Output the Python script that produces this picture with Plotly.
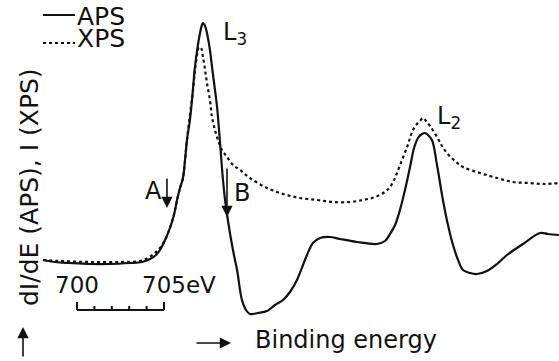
import plotly.graph_objects as go

# APS derivative spectrum (dI/dE), Fe 2p region
aps_energy = [698.05, 698.74, 699.60, 700.75, 701.90, 703.05, 703.74, 704.20, 704.54, 704.77,
              705.06, 705.34, 705.57, 705.75, 705.92, 706.09, 706.21, 706.32, 706.49, 706.61,
              706.78, 706.95, 707.07, 707.18, 707.24, 707.36, 707.47, 707.64, 707.76, 707.93,
              708.05, 708.22, 708.39, 708.51, 708.79, 709.02, 709.20, 709.48, 709.71, 709.94,
              710.40, 710.92, 711.38, 711.84, 712.24, 712.64, 712.99, 713.22, 713.56, 713.97,
              714.54, 715.11, 716.09, 717.24, 717.70, 717.99, 718.28, 718.56, 718.85, 719.14,
              719.37, 719.60, 719.83, 720.00, 720.17, 720.40, 720.69, 721.03, 721.32, 721.61,
              721.90, 722.18, 722.59, 722.99, 723.56, 724.14, 724.71, 725.63, 726.61, 727.07,
              727.70]
aps_signal = [0.3, 0.1, 0.0, -0.1, -0.1, 0.0, 0.1, 0.4, 0.8, 1.3,
              2.3, 3.5, 4.8, 6.3, 7.5, 8.5, 10.3, 12.3, 14.3, 16.3,
              19.6, 21.8, 23.0, 23.8, 24.0, 23.7, 23.0, 21.3, 19.6, 17.3,
              15.6, 12.0, 8.3, 6.3, 3.0, 0.8, -0.7, -3.7, -4.7, -5.1,
              -5.0, -4.8, -4.2, -3.7, -2.9, -1.7, -0.2, 0.8, 2.0, 2.5,
              2.6, 2.4, 2.1, 1.9, 2.2, 2.9, 3.8, 5.3, 7.3, 9.6,
              11.5, 12.5, 12.9, 13.0, 12.8, 12.3, 9.8, 6.3, 3.8, 1.8,
              0.3, -0.7, -1.0, -1.1, -0.8, -0.1, 0.8, 1.9, 3.0, 2.9,
              2.8]

# XPS intensity I(E)
xps_energy = [698.05, 699.02, 700.75, 702.47, 703.62, 704.08, 704.48, 704.77, 705.06, 705.34,
              705.57, 705.75, 705.92, 706.09, 706.21, 706.32, 706.49, 706.67, 706.78, 706.90,
              707.01, 707.13, 707.24, 707.36, 707.47, 707.64, 707.76, 707.93, 708.10, 708.33,
              708.62, 708.97, 709.37, 709.94, 710.92, 711.84, 712.82, 713.79, 714.71, 715.69,
              716.44, 716.95, 717.41, 717.76, 717.99, 718.22, 718.39, 718.68, 718.97, 719.14,
              719.31, 719.54, 719.71, 719.89, 720.06, 720.29, 720.69, 720.98, 721.26, 721.72,
              722.18, 723.16, 724.14, 725.06, 726.03, 726.90, 727.70]
xps_signal = [0.3, 0.2, 0.1, 0.1, 0.2, 0.5, 1.0, 1.5, 2.3, 3.5,
              4.8, 6.3, 7.5, 8.5, 10.3, 12.3, 14.8, 17.3, 19.3, 20.8,
              21.6, 21.5, 20.6, 19.3, 18.0, 16.3, 14.6, 13.3, 12.3, 11.3,
              10.6, 9.8, 9.3, 8.5, 7.5, 6.9, 6.5, 6.3, 6.1, 6.1,
              6.3, 6.5, 6.8, 7.2, 7.6, 8.3, 9.0, 10.3, 11.6, 12.5,
              13.3, 13.9, 14.2, 14.5, 14.2, 13.7, 12.6, 11.7, 11.0, 10.2,
              9.6, 9.0, 8.5, 8.1, 8.0, 7.9, 8.0]

# energy scale bar (eV) and feature markers
scale_start, scale_end = 700, 705
scale_ticks = [701, 702, 703, 704]
marker_a = 705.17
marker_b = 708.62

W, H = 559, 361
FONT = "DejaVu Sans"
INK = "#111111"


def fx(p):
    """horizontal pixel -> paper fraction"""
    return p / W


def fy(p):
    """vertical pixel (from top) -> paper fraction"""
    return 1 - p / H


fig = go.Figure()
fig.add_trace(go.Scatter(x=aps_energy, y=aps_signal, mode="lines", name="APS",
                         line=dict(color=INK, width=2.2), line_shape="spline"))
fig.add_trace(go.Scatter(x=xps_energy, y=xps_signal, mode="lines", name="XPS",
                         line=dict(color=INK, width=2.2, dash="dot"), line_shape="spline"))

shapes = []
# legend samples
shapes.append(dict(type="line", xref="paper", yref="paper", x0=fx(43), x1=fx(75),
                   y0=fy(15), y1=fy(15), line=dict(color=INK, width=2)))
shapes.append(dict(type="line", xref="paper", yref="paper", x0=fx(43), x1=fx(75),
                   y0=fy(43), y1=fy(43), line=dict(color=INK, width=2, dash="dot")))
# scale bar
shapes.append(dict(type="line", xref="x", yref="paper", x0=scale_start, x1=scale_end,
                   y0=fy(310), y1=fy(310), line=dict(color=INK, width=2)))
for e in (scale_start, scale_end):
    shapes.append(dict(type="line", xref="x", yref="paper", x0=e, x1=e,
                       y0=fy(310), y1=fy(302), line=dict(color=INK, width=2)))
for e in scale_ticks:
    shapes.append(dict(type="line", xref="x", yref="paper", x0=e, x1=e,
                       y0=fy(310), y1=fy(306), line=dict(color=INK, width=2)))

ann = []


def text(t, x, y, size=23, xanchor="center", xref="paper", angle=0):
    ann.append(dict(text=t, x=x, y=y, xref=xref, yref="paper", xanchor=xanchor,
                    yanchor="middle", showarrow=False, textangle=angle, borderpad=0,
                    font=dict(family=FONT, size=size, color=INK)))


def arrow(x, y, ax, ay, xref="paper"):
    ann.append(dict(text="", x=x, y=y, xref=xref, yref="paper", ax=ax, ay=ay,
                    showarrow=True, arrowhead=2, arrowsize=1.4, arrowwidth=1.6,
                    arrowcolor=INK))


text("APS", fx(76), fy(17), size=25, xanchor="left")
text("XPS", fx(76), fy(39), size=25, xanchor="left")
text("L<sub>3</sub>", fx(222), fy(33), size=24, xanchor="left")
text("L<sub>2</sub>", fx(436), fy(117), size=24, xanchor="left")
text("A", fx(153), fy(191), size=24)
text("B", fx(242), fy(193), size=24)
text("700", scale_start, fy(285), size=23, xref="x")
text("705eV", fx(141), fy(285), size=23, xanchor="left")
text("dI/dE (APS), I (XPS)", fx(29), fy(187), size=25, angle=-90)
text("Binding energy", fx(254), fy(340), size=24, xanchor="left")

arrow(marker_a, fy(208), 0, -31, xref="x")
arrow(marker_b, fy(217), 0, -50, xref="x")
arrow(fx(23), fy(327), 0, 31)
arrow(fx(231), fy(343), -36, 0)

fig.update_layout(
    width=W, height=H,
    margin=dict(l=0, r=0, t=0, b=0),
    paper_bgcolor="white", plot_bgcolor="white",
    showlegend=False,
    xaxis=dict(range=[695.575, 727.701], visible=False, fixedrange=True),
    yaxis=dict(range=[-9.8, 26.3], visible=False, fixedrange=True),
    shapes=shapes, annotations=ann,
)

fig.write_html("out.html", config={"displayModeBar": False})
